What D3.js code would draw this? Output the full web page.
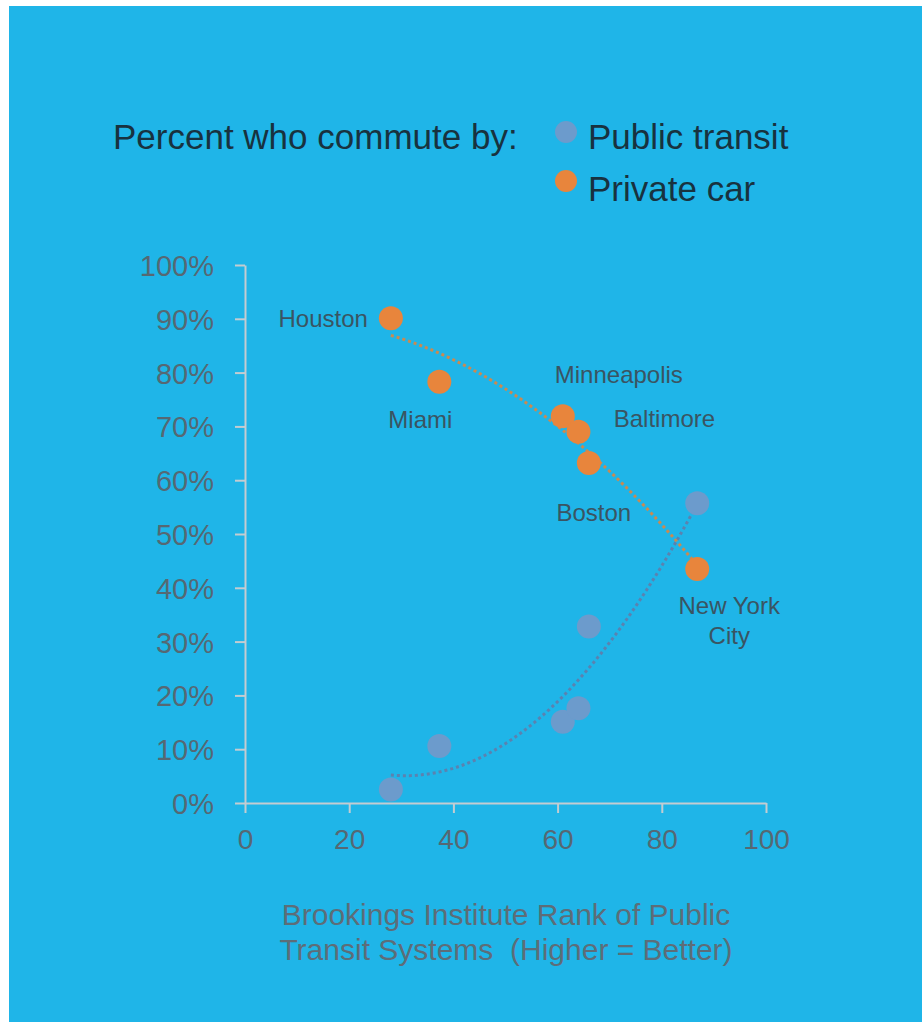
<!DOCTYPE html>
<html><head><meta charset="utf-8">
<script src="https://cdn.jsdelivr.net/npm/d3@7"></script>
<style>html,body{margin:0;padding:0;background:#fff}svg{display:block}text{white-space:pre}</style>
</head><body>
<script>
const cities = ["Houston","Miami","Minneapolis","Baltimore","Boston","New York City"];
const transitRank = [28.0, 37.3, 61.0, 64.0, 66.0, 86.8];
const publicTransit = [0.025, 0.106, 0.151, 0.176, 0.328, 0.557];
const privateCar = [0.901, 0.783, 0.719, 0.690, 0.632, 0.435];
const yTicks = [0,0.1,0.2,0.3,0.4,0.5,0.6,0.7,0.8,0.9,1.0];
const xTicks = [0,20,40,60,80,100];
const seriesNames = ["Public transit","Private car"];
const legendTitle = "Percent who commute by:";
const xTitle = ["Brookings Institute Rank of Public","Transit Systems  (Higher = Better)"];
const labelLines = [["Houston"],["Miami"],["Minneapolis"],["Baltimore"],["Boston"],["New York","City"]];

const W=922,H=1022;
const svg=d3.select("body").append("svg").attr("width",W).attr("height",H);
svg.append("rect").attr("x",9).attr("y",6).attr("width",W-9).attr("height",H-6).attr("fill","#1fb5e8");

const x=d3.scaleLinear().domain([0,100]).range([245,766]);
const y=d3.scaleLinear().domain([0,1]).range([803,265]);
const axisColor="#c4ccd1", tickText="#566873";
const FONT="'Liberation Sans', Arial, sans-serif";

// axes
const gy=svg.append("g").attr("transform",`translate(${x(0)},0)`)
  .call(d3.axisLeft(y).tickValues(yTicks).tickFormat(d3.format(".0%")).tickSize(10).tickSizeOuter(0).tickPadding(21));
const gx=svg.append("g").attr("transform",`translate(0,${y(0)})`)
  .call(d3.axisBottom(x).tickValues(xTicks).tickSize(10).tickSizeOuter(0).tickPadding(16));
[gx,gy].forEach(g=>{
  g.select(".domain").attr("stroke",axisColor).attr("stroke-width",2);
  g.selectAll(".tick line").attr("stroke",axisColor).attr("stroke-width",2);
  g.selectAll(".tick text").attr("fill",tickText).style("font-family",FONT);
});
gy.selectAll(".tick text").style("font-size","29px").attr("dy","0.36em");
gx.selectAll(".tick text").style("font-size","28px").attr("dy","0.71em");

// polynomial (quadratic) least squares trendline
function polyfit(xs,ys,deg){
  const n=deg+1;
  const A=Array.from({length:n},()=>new Array(n+1).fill(0));
  for(let i=0;i<xs.length;i++){
    for(let r=0;r<n;r++){
      for(let c=0;c<n;c++) A[r][c]+=Math.pow(xs[i],r+c);
      A[r][n]+=ys[i]*Math.pow(xs[i],r);
    }
  }
  for(let p=0;p<n;p++){
    let m=p;for(let r=p+1;r<n;r++) if(Math.abs(A[r][p])>Math.abs(A[m][p])) m=r;
    [A[p],A[m]]=[A[m],A[p]];
    for(let r=0;r<n;r++){ if(r===p) continue; const f=A[r][p]/A[p][p]; for(let c=p;c<=n;c++) A[r][c]-=f*A[p][c]; }
  }
  return A.map((row,i)=>row[n]/row[i]);
}
function trend(ys,color){
  const co=polyfit(transitRank,ys,2);
  const x0=d3.min(transitRank), x1=d3.max(transitRank);
  const pts=d3.range(0,61).map(i=>{const xv=x0+(x1-x0)*i/60;return [xv,co.reduce((s,c,k)=>s+c*Math.pow(xv,k),0)];});
  svg.append("path").datum(pts)
    .attr("d",d3.line().x(d=>x(d[0])).y(d=>y(d[1])))
    .attr("fill","none").attr("stroke",color).attr("stroke-width",3).attr("stroke-dasharray","3,3");
}
const pubColor="#6c9bcc", carColor="#e8853c";
trend(publicTransit,"#5b82b0");
trend(privateCar,"#c98a52");

// points
svg.append("g").selectAll("circle").data(transitRank).join("circle")
  .attr("cx",d=>x(d)).attr("cy",(d,i)=>y(publicTransit[i])).attr("r",12).attr("fill",pubColor);
svg.append("g").selectAll("circle").data(transitRank).join("circle")
  .attr("cx",d=>x(d)).attr("cy",(d,i)=>y(privateCar[i])).attr("r",12).attr("fill",carColor);

// city labels
const labelPos=[
  {a:"end",dx:-23,dy:9},
  {a:"middle",dx:-19,dy:46},
  {a:"middle",dx:56,dy:-33},
  {a:"middle",dx:86,dy:-5},
  {a:"middle",dx:5,dy:58},
  {a:"middle",dx:32,dy:45}
];
labelLines.forEach((lines,i)=>{
  const p=labelPos[i];
  const t=svg.append("text").attr("x",x(transitRank[i])+p.dx).attr("y",y(privateCar[i])+p.dy)
    .attr("text-anchor",p.a).attr("fill","#3a5462").style("font-family",FONT).style("font-size","24px");
  lines.forEach((l,j)=>t.append("tspan").attr("x",x(transitRank[i])+p.dx).attr("dy",j?30:0).text(l));
});

// legend
const legendColor="#18323f";
svg.append("text").attr("x",113).attr("y",149).attr("fill",legendColor).style("font-family",FONT).style("font-size","35px").text(legendTitle);
[[pubColor,132,149],[carColor,181,201]].forEach((d,i)=>{
  svg.append("circle").attr("cx",566).attr("cy",d[1]).attr("r",11).attr("fill",d[0]);
  svg.append("text").attr("x",588).attr("y",d[2]).attr("fill",legendColor).style("font-family",FONT).style("font-size","35px").text(seriesNames[i]);
});

// x title
xTitle.forEach((l,i)=>svg.append("text").attr("x",506).attr("y",925+i*35).attr("text-anchor","middle")
  .attr("fill","#5d6d78").style("font-family",FONT).style("font-size","30px").text(l));
</script>
</body></html>
